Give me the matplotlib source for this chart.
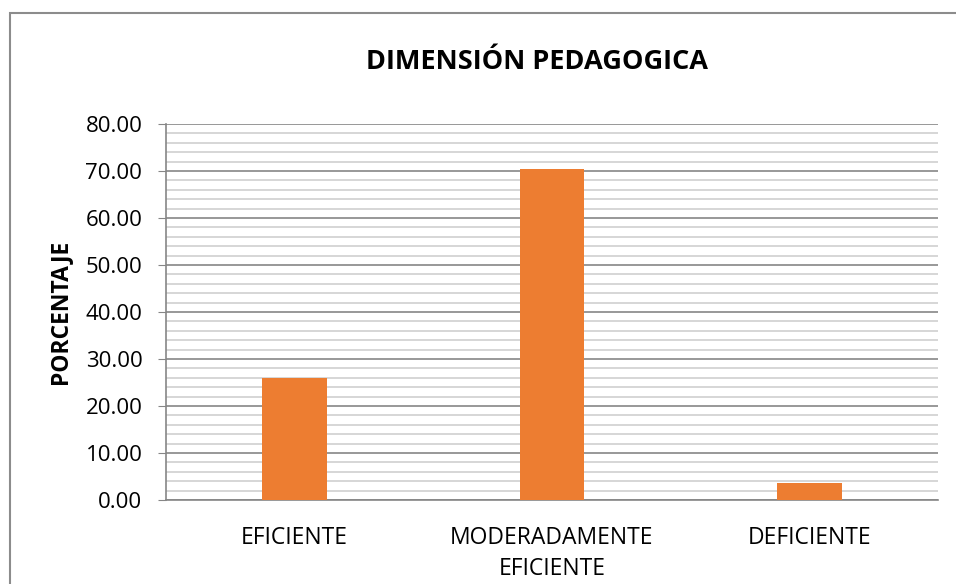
import matplotlib.pyplot as plt
from matplotlib.patches import Rectangle

# Datos del gráfico
categorias = ['EFICIENTE', 'MODERADAMENTE\nEFICIENTE', 'DEFICIENTE']
porcentajes = [25.93, 70.37, 3.70]
marcas_y = [0, 10, 20, 30, 40, 50, 60, 70, 80]

plt.rcParams['font.family'] = ['Open Sans', 'DejaVu Sans']

fig = plt.figure(figsize=(9.56, 5.84), dpi=100)
ax = fig.add_axes([0.1736, 0.1438, 0.9812 - 0.1736, 0.7877 - 0.1438])

# Marco exterior
fig.patches.append(Rectangle((10 / 956, -0.1), 1.2, 1 - 13 / 584 + 0.1,
                             transform=fig.transFigure, fill=False,
                             edgecolor='#8c8c8c', linewidth=1.5))

x = range(len(categorias))
ax.bar(x, porcentajes, width=0.25, color='#ed7d31', zorder=3)

ax.set_xlim(-0.5, 2.5)
ax.set_ylim(0, 80)
ax.set_yticks(marcas_y)
ax.set_yticklabels([f'{v:.2f}' for v in marcas_y], fontsize=16)
ax.set_yticks(range(0, 81, 2), minor=True)
ax.set_xticks(list(x))
ax.set_xticklabels(categorias, fontsize=16.5, linespacing=1.35)

ax.grid(axis='y', which='major', color='#868686', linewidth=1.2, zorder=0)
ax.grid(axis='y', which='minor', color='#d0d0d0', linewidth=1.2, zorder=0)
ax.tick_params(axis='y', which='major', length=6, color='#868686', pad=11)
ax.tick_params(axis='y', which='minor', length=0)
ax.tick_params(axis='x', length=0, pad=19)

for lado in ['top', 'right']:
    ax.spines[lado].set_visible(False)
ax.spines['left'].set_color('#868686')
ax.spines['bottom'].set_color('#868686')
ax.spines['left'].set_linewidth(1.2)
ax.spines['bottom'].set_linewidth(1.2)

ax.set_ylabel('PORCENTAJE', fontsize=16.5, fontweight='bold', labelpad=10)
fig.text(0.562, 0.893, 'DIMENSIÓN PEDAGOGICA', fontsize=19.5, fontweight='bold',
         ha='center', va='center')

fig.savefig('out.png', dpi=100)
